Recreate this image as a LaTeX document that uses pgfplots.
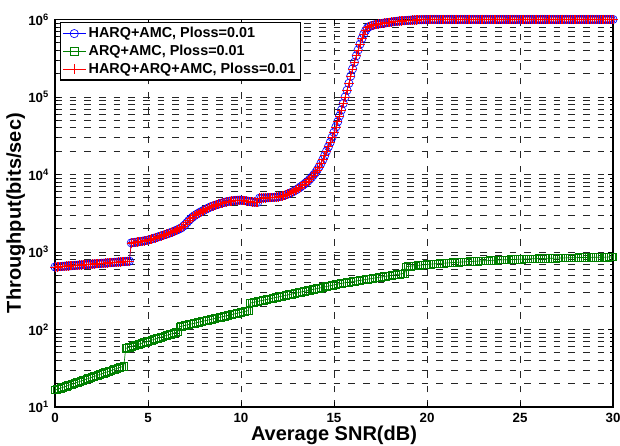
\documentclass[border=0pt]{standalone}
\usepackage{fontspec}
\setmainfont{Liberation Sans}
\usepackage{pgfplots}
\usepackage{pgfplotstable}
\pgfplotsset{compat=1.18}

\pgfplotstableread[row sep=\\]{
x y\\
0 640\\0.1 642\\0.2 645\\0.3 648\\0.4 651\\0.5 654\\0.6 657\\0.7 660\\0.8 662\\0.9 665\\
1 668\\1.1 671\\1.2 674\\1.3 677\\1.4 680\\1.5 683\\1.6 686\\1.7 688\\1.8 691\\1.9 694\\
2 697\\2.1 700\\2.2 703\\2.3 706\\2.4 709\\2.5 712\\2.6 715\\2.7 718\\2.8 722\\2.9 725\\
3 728\\3.1 731\\3.2 734\\3.3 737\\3.4 741\\3.5 744\\3.6 747\\3.7 750\\3.8 754\\3.9 757\\
4 760\\4.1 1310\\4.2 1320\\4.3 1330\\4.4 1340\\4.5 1352\\4.6 1365\\4.7 1377\\4.8 1390\\4.9 1405\\
5 1420\\5.1 1445\\5.2 1470\\5.3 1495\\5.4 1520\\5.5 1550\\5.6 1580\\5.7 1610\\5.8 1640\\5.9 1670\\
6 1700\\6.1 1735\\6.2 1770\\6.3 1810\\6.4 1850\\6.5 1895\\6.6 1940\\6.7 1995\\6.8 2050\\6.9 2150\\
7 2250\\7.1 2400\\7.2 2550\\7.3 2690\\7.4 2820\\7.5 2940\\7.6 3050\\7.7 3150\\7.8 3250\\7.9 3350\\
8 3450\\8.1 3550\\8.2 3650\\8.3 3750\\8.4 3850\\8.5 3925\\8.6 4000\\8.7 4075\\8.8 4150\\8.9 4225\\
9 4300\\9.1 4360\\9.2 4420\\9.3 4470\\9.4 4520\\9.5 4560\\9.6 4600\\9.7 4620\\9.8 4640\\9.9 4650\\
10 4650\\10.1 4630\\10.2 4600\\10.3 4550\\10.4 4500\\10.5 4460\\10.6 4420\\10.7 4400\\10.8 4380\\10.9 4370\\
11 4950\\11.1 4965\\11.2 4980\\11.3 4990\\11.4 5000\\11.5 5015\\11.6 5030\\11.7 5050\\11.8 5070\\11.9 5100\\
12 5130\\12.1 5190\\12.2 5250\\12.3 5350\\12.4 5450\\12.5 5570\\12.6 5700\\12.7 5850\\12.8 6000\\12.9 6200\\
13 6400\\13.1 6640\\13.2 6900\\13.3 7190\\13.4 7500\\13.5 7840\\13.6 8200\\13.7 8680\\13.8 9200\\13.9 9830\\
14 10500\\14.1 11450\\14.2 12500\\14.3 13900\\14.4 15500\\14.5 17600\\14.6 20000\\14.7 22800\\14.8 26000\\14.9 30200\\
15 35000\\15.1 41000\\15.2 48000\\15.3 57000\\15.4 68000\\15.5 82500\\15.6 100000\\15.7 122000\\15.8 150000\\15.9 186000\\
16 230000\\16.1 280000\\16.2 340000\\16.3 405000\\16.4 480000\\16.5 565000\\16.6 650000\\16.7 720000\\16.8 780000\\16.9 810000\\
17 830000\\17.1 843000\\17.2 855000\\17.3 865000\\17.4 875000\\17.5 883000\\17.6 890000\\17.7 898000\\17.8 905000\\17.9 913000\\
18 920000\\18.1 928000\\18.2 935000\\18.3 942000\\18.4 948000\\18.5 953000\\18.6 958000\\18.7 963000\\18.8 967000\\18.9 971000\\
19 975000\\19.1 979000\\19.2 982000\\19.3 985000\\19.4 988000\\19.5 990000\\19.6 992000\\19.7 994000\\19.8 996000\\19.9 997000\\
20 998000\\20.1 999000\\20.2 1000000\\20.3 1000000\\20.4 1000000\\20.5 1000000\\20.6 1000000\\20.7 1000000\\20.8 1000000\\20.9 1000000\\
21 1000000\\21.1 1000000\\21.2 1000000\\21.3 1000000\\21.4 1000000\\21.5 1000000\\21.6 1000000\\21.7 1000000\\21.8 1000000\\21.9 1000000\\
22 1000000\\22.1 1000000\\22.2 1000000\\22.3 1000000\\22.4 1000000\\22.5 1000000\\22.6 1000000\\22.7 1000000\\22.8 1000000\\22.9 1000000\\
23 1000000\\23.1 1000000\\23.2 1000000\\23.3 1000000\\23.4 1000000\\23.5 1000000\\23.6 1000000\\23.7 1000000\\23.8 1000000\\23.9 1000000\\
24 1000000\\24.1 1000000\\24.2 1000000\\24.3 1000000\\24.4 1000000\\24.5 1000000\\24.6 1000000\\24.7 1000000\\24.8 1000000\\24.9 1000000\\
25 1000000\\25.1 1000000\\25.2 1000000\\25.3 1000000\\25.4 1000000\\25.5 1000000\\25.6 1000000\\25.7 1000000\\25.8 1000000\\25.9 1000000\\
26 1000000\\26.1 1000000\\26.2 1000000\\26.3 1000000\\26.4 1000000\\26.5 1000000\\26.6 1000000\\26.7 1000000\\26.8 1000000\\26.9 1000000\\
27 1000000\\27.1 1000000\\27.2 1000000\\27.3 1000000\\27.4 1000000\\27.5 1000000\\27.6 1000000\\27.7 1000000\\27.8 1000000\\27.9 1000000\\
28 1000000\\28.1 1000000\\28.2 1000000\\28.3 1000000\\28.4 1000000\\28.5 1000000\\28.6 1000000\\28.7 1000000\\28.8 1000000\\28.9 1000000\\
29 1000000\\29.1 1000000\\29.2 1000000\\29.3 1000000\\29.4 1000000\\29.5 1000000\\29.6 1000000\\29.7 1000000\\29.8 1000000\\29.9 1000000\\
30 1000000\\
}\harq

\pgfplotstableread[row sep=\\]{
x y\\
0 16.5\\0.1 16.8\\0.2 17.1\\0.3 17.5\\0.4 17.8\\0.5 18.2\\0.6 18.5\\0.7 18.9\\0.8 19.3\\0.9 19.6\\
1 20.0\\1.1 20.4\\1.2 20.8\\1.3 21.2\\1.4 21.6\\1.5 22.0\\1.6 22.5\\1.7 22.9\\1.8 23.3\\1.9 23.8\\
2 24.3\\2.1 24.7\\2.2 25.2\\2.3 25.7\\2.4 26.2\\2.5 26.7\\2.6 27.3\\2.7 27.8\\2.8 28.3\\2.9 28.9\\
3 29.4\\3.1 30.0\\3.2 30.6\\3.3 31.2\\3.4 31.8\\3.5 32.4\\3.6 33.0\\3.7 33.6\\3.8 57.0\\3.9 58.0\\
4 59.0\\4.1 60.0\\4.2 61.1\\4.3 62.2\\4.4 63.3\\4.5 64.4\\4.6 65.6\\4.7 66.7\\4.8 67.9\\4.9 69.1\\
5 70.3\\5.1 71.5\\5.2 72.8\\5.3 74.1\\5.4 75.4\\5.5 76.7\\5.6 78.1\\5.7 79.5\\5.8 80.9\\5.9 82.3\\
6 83.8\\6.1 85.2\\6.2 86.7\\6.3 88.3\\6.4 89.8\\6.5 91.4\\6.6 93.0\\6.7 108.6\\6.8 110.0\\6.9 111.4\\
7 112.9\\7.1 114.3\\7.2 115.8\\7.3 117.3\\7.4 118.8\\7.5 120.4\\7.6 121.9\\7.7 123.5\\7.8 125.1\\7.9 126.7\\
8 128.4\\8.1 130.0\\8.2 131.7\\8.3 133.4\\8.4 135.2\\8.5 136.9\\8.6 138.7\\8.7 140.5\\8.8 142.3\\8.9 144.1\\
9 146.0\\9.1 147.9\\9.2 149.8\\9.3 151.8\\9.4 153.7\\9.5 155.7\\9.6 157.8\\9.7 159.8\\9.8 161.9\\9.9 164.0\\
10 166.1\\10.1 168.2\\10.2 170.4\\10.3 172.7\\10.4 175.0\\10.5 219.5\\10.6 222.0\\10.7 224.7\\10.8 227.4\\10.9 230.1\\
11 232.9\\11.1 235.7\\11.2 238.5\\11.3 241.4\\11.4 244.3\\11.5 247.2\\11.6 250.2\\11.7 253.2\\11.8 256.3\\11.9 259.4\\
12 262.5\\12.1 265.6\\12.2 268.8\\12.3 272.0\\12.4 275.3\\12.5 278.6\\12.6 282.0\\12.7 285.4\\12.8 288.8\\12.9 292.3\\
13 295.8\\13.1 299.4\\13.2 303.0\\13.3 306.6\\13.4 310.3\\13.5 314.0\\13.6 317.8\\13.7 321.6\\13.8 325.5\\13.9 329.4\\
14 333.4\\14.1 337.4\\14.2 341.5\\14.3 345.6\\14.4 349.7\\14.5 353.9\\14.6 358.2\\14.7 362.5\\14.8 366.8\\14.9 371.2\\
15 375.7\\15.1 380.2\\15.2 384.8\\15.3 389.2\\15.4 393.6\\15.5 397.1\\15.6 400.6\\15.7 404.1\\15.8 407.7\\15.9 411.3\\
16 414.9\\16.1 418.6\\16.2 422.3\\16.3 426.0\\16.4 429.8\\16.5 433.6\\16.6 437.4\\16.7 441.2\\16.8 445.1\\16.9 449.0\\
17 453.0\\17.1 457.0\\17.2 461.1\\17.3 465.1\\17.4 469.2\\17.5 473.4\\17.6 477.6\\17.7 481.8\\17.8 486.0\\17.9 490.3\\
18 494.6\\18.1 499.0\\18.2 503.4\\18.3 507.8\\18.4 512.3\\18.5 516.8\\18.6 521.4\\18.7 526.0\\18.8 530.6\\18.9 646\\
19 650\\19.1 654\\19.2 658\\19.3 662\\19.4 666\\19.5 670\\19.6 674\\19.7 678\\19.8 682\\19.9 686\\
20 690\\20.1 693\\20.2 696\\20.3 699\\20.4 702\\20.5 705\\20.6 708\\20.7 710\\20.8 713\\20.9 716\\
21 719\\21.1 721\\21.2 724\\21.3 727\\21.4 730\\21.5 732\\21.6 735\\21.7 737\\21.8 740\\21.9 742\\
22 745\\22.1 747\\22.2 750\\22.3 752\\22.4 754\\22.5 756\\22.6 759\\22.7 761\\22.8 763\\22.9 765\\
23 768\\23.1 770\\23.2 772\\23.3 774\\23.4 777\\23.5 779\\23.6 781\\23.7 783\\23.8 786\\23.9 788\\
24 790\\24.1 791\\24.2 793\\24.3 795\\24.4 797\\24.5 798\\24.6 800\\24.7 801\\24.8 803\\24.9 804\\
25 806\\25.1 807\\25.2 809\\25.3 810\\25.4 812\\25.5 814\\25.6 816\\25.7 817\\25.8 819\\25.9 820\\
26 822\\26.1 823\\26.2 824\\26.3 825\\26.4 826\\26.5 827\\26.6 829\\26.7 830\\26.8 831\\26.9 832\\
27 833\\27.1 834\\27.2 836\\27.3 837\\27.4 838\\27.5 839\\27.6 840\\27.7 841\\27.8 843\\27.9 844\\
28 845\\28.1 846\\28.2 847\\28.3 847\\28.4 848\\28.5 849\\28.6 850\\28.7 850\\28.8 851\\28.9 852\\
29 853\\29.1 853\\29.2 854\\29.3 855\\29.4 856\\29.5 856\\29.6 857\\29.7 858\\29.8 859\\29.9 859\\
30 860\\
}\arq

\definecolor{mgreen}{rgb}{0,0.5,0}

\begin{document}
\begin{tikzpicture}
\begin{axis}[
  scale only axis,
  width=418.5pt, height=290.6pt,
  xmin=0, xmax=30, ymin=10, ymax=1000000,
  ymode=log,
  clip=false,
  xtick={0,5,10,15,20,25,30},
  xticklabels={0,5,10,15,20,25,30},
  ytick={10,100,1000,10000,100000,1000000},
  yticklabels={10\textsuperscript{1},10\textsuperscript{2},10\textsuperscript{3},10\textsuperscript{4},10\textsuperscript{5},10\textsuperscript{6}},
  minor ytick={20,30,40,50,60,70,80,90,200,300,400,500,600,700,800,900,2000,3000,4000,5000,6000,7000,8000,9000,20000,30000,40000,50000,60000,70000,80000,90000,200000,300000,400000,500000,600000,700000,800000,900000},
  xmajorgrids, ymajorgrids, yminorgrids,
  major grid style={black!85, line width=0.6pt, dash pattern=on 5pt off 6pt},
  minor grid style={black!85, line width=0.6pt, dash pattern=on 5pt off 6pt},
  axis line style={line width=0.9pt},
  tick style={black, line width=0.6pt},
  major tick length=3.75pt, minor tick length=2.5pt,
  tick align=inside,
  tick label style={font=\fontsize{10}{12}\selectfont\bfseries},
  xticklabel style={yshift=-1pt},
  yticklabel style={xshift=-1pt},
  xlabel={Average SNR(dB)},
  ylabel={Throughput(bits/sec)},
  x label style={at={(axis description cs:0.5,-0.0723)}, anchor=center, font=\fontsize{15}{18}\selectfont\bfseries},
  y label style={at={(axis description cs:-0.0705,0.5)}, anchor=center, rotate=0, font=\fontsize{15}{18}\selectfont\bfseries},
  legend style={at={(axis description cs:0.009,0.993)}, anchor=north west,
    draw=black, line width=0.8pt, fill=white,
    font=\fontsize{10.8}{13}\selectfont\bfseries,
    inner sep=1.5pt, row sep=0pt},
  legend cell align=left,
]
\addplot[blue, line width=0.5pt, mark=o, mark size=3.1pt, mark options={line width=0.5pt}] table[x=x,y=y] {\harq};
\addlegendentry{HARQ+AMC, Ploss=0.01}
\addplot[mgreen, line width=0.5pt, mark=square, mark size=2.8pt, mark options={line width=0.5pt}] table[x=x,y=y] {\arq};
\addlegendentry{ARQ+AMC, Ploss=0.01}
\addplot[red, line width=0.5pt, mark=+, mark size=3.5pt, mark options={line width=0.5pt}] table[x=x,y=y] {\harq};
\addlegendentry{HARQ+ARQ+AMC, Ploss=0.01}
\end{axis}
\path (current axis.south west) ++(-41.25pt,-29.25pt) coordinate (bl);
\path (current axis.north east) ++(5.25pt,14.6pt) coordinate (tr);
\pgfresetboundingbox
\path (bl) rectangle (tr);
\end{tikzpicture}
\end{document}
